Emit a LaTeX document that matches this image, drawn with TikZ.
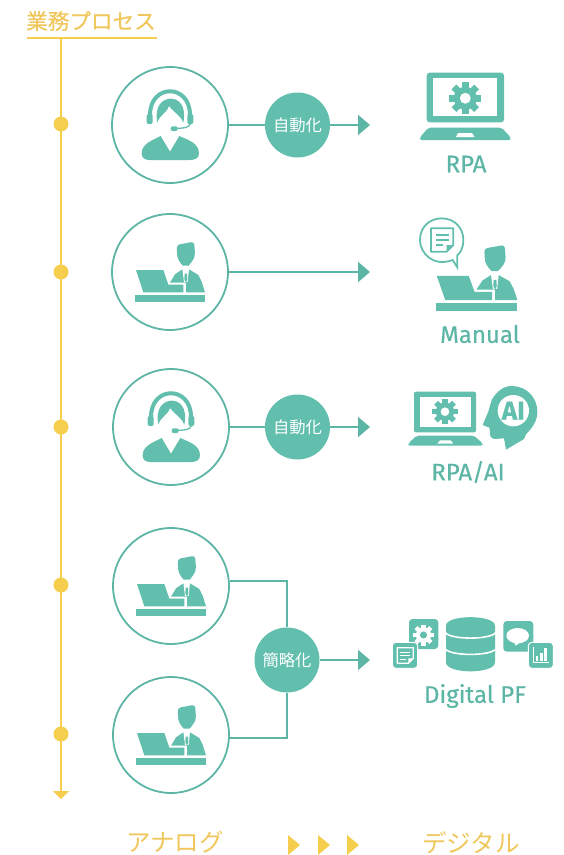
\documentclass[tikz,border=0pt]{standalone}
\usepackage{fontspec}
\usetikzlibrary{arrows.meta}
\setmainfont{Fira Sans}[FakeBold=0.35]
\newfontfamily\cjk{Noto Sans CJK JP}
\newfontfamily\cjkb{Noto Sans CJK JP}[FakeBold=0.5]
\definecolor{teal}{HTML}{62BFAE}
\definecolor{tealline}{HTML}{5DB5A6}
\definecolor{gold}{HTML}{F6CE4E}
\definecolor{goldtext}{HTML}{F0C75C}
\tikzset{
  x=1pt,y=-1pt,
  tl/.style={tealline,line width=1.8pt},
  flow/.style={tl,-{Triangle[length=12pt,width=20pt]}},
  person/.style={circle,draw=tealline,line width=1.8pt,fill=white,minimum size=116pt,inner sep=0pt},
  bubble/.style={circle,fill=teal,text=white,minimum size=65pt,inner sep=0pt,font=\cjk\fontsize{16.3}{16.3}\selectfont},
  dot/.style={circle,fill=gold,minimum size=15pt,inner sep=0pt},
  lab/.style={text=tealline,inner sep=0pt,font=\fontsize{24}{24}\selectfont},
  ytext/.style={text=goldtext,inner sep=0pt,font=\cjk\fontsize{24.5}{24.5}\selectfont},
  zoomed/.style={x=0.33333pt,y=-0.33333pt},
  pics/gear/.style args={#1/#2}{code={
    \fill[#1] (0,0) circle[radius=7.2];
    \foreach \a in {0,45,...,315}{
      \fill[#1,rotate=\a] (-2.1,-10) rectangle (2.1,-5);
    }
    \fill[#2] (0,0) circle[radius=3.4];
  }},
  pics/agent/.style={code={
    \begin{scope}[zoomed,shift={(-210,-195)}]
      \fill[teal] (125,280) .. controls (125,250) and (160,240) .. (182,228) -- (210,275) -- (238,228) .. controls (265,240) and (297,250) .. (297,280) .. controls (297,295) and (285,300) .. (270,300) -- (150,300) .. controls (135,300) and (125,295) .. (125,280) -- cycle;
      \fill[teal] (172,188) .. controls (162,135) and (190,116) .. (212,116) .. controls (235,116) and (260,135) .. (250,188) .. controls (245,170) and (225,160) .. (207,138) .. controls (200,160) and (178,165) .. (172,188) -- cycle;
      \draw[teal,line width=4pt] (150,165) .. controls (150,70) and (270,70) .. (270,165);
      \fill[teal,rounded corners=2pt] (140,162) rectangle (158,192);
      \fill[teal,rounded corners=2pt] (262,162) rectangle (280,192);
      \draw[teal,line width=1.3pt] (272,190) .. controls (268,205) and (245,205) .. (225,205);
      \fill[teal,rounded corners=2pt] (212,199) rectangle (233,213);
    \end{scope}
  }},
  pics/desk/.style={code={
    \begin{scope}[zoomed,shift={(-210,-186)}]
      \fill[teal] (108,180) -- (190,180) -- (205,224) -- (250,224) -- (250,247) -- (130,247) -- cycle;
      \fill[teal] (105,255) rectangle (315,277);
      \fill[teal,rounded corners=3pt] (230,105) -- (255,100) -- (282,95) -- (285,130) .. controls (282,150) and (265,167) .. (257,167) .. controls (248,167) and (233,150) .. (231,130) -- cycle;
      \fill[teal] (210,218) -- (225,193) -- (247,178) -- (267,178) -- (295,195) -- (305,215) -- (315,247) -- (258,247) -- (258,218) -- cycle;
      \fill[white] (247,176) -- (267,176) -- (263,216) -- (252,216) -- cycle;
      \fill[teal] (254,191) -- (261,191) -- (262,208) -- (258,218) -- (253,208) -- cycle;
    \end{scope}
  }}
}
\begin{document}
\begin{tikzpicture}
\useasboundingbox (0,0) rectangle (564,855);
% timeline
\node[ytext,font=\cjkb\fontsize{21.6}{21.6}\selectfont] (title) at (91,21) {業務プロセス};
\coordinate (ruleL) at (27,38);
\coordinate (ruleR) at (157,38);
\draw[gold,line width=2.4pt] (ruleL) -- (ruleR);
\coordinate (tlTop) at (61,38);
\coordinate (tlEnd) at (61,799);
\draw[gold,line width=2.2pt,-{Triangle[length=8pt,width=16pt]}] (tlTop) -- (tlEnd);
\node[dot] (d1) at (61,124) {};
\node[dot] (d2) at (61,272) {};
\node[dot] (d3) at (61,427) {};
\node[dot] (d4) at (61,585) {};
\node[dot] (d5) at (61,734) {};
% left circles
\node[person] (c1) at (170,125) {};
\node[person] (c2) at (170,272) {};
\node[person] (c3) at (171,427) {};
\node[person] (c4) at (171,586) {};
\node[person] (c5) at (171,735) {};
\pic at (170,125) {agent};
\pic at (170,272) {desk};
\pic at (171,427) {agent};
\pic at (171,586) {desk};
\pic at (171,735) {desk};
% bubbles & connectors
\node[bubble] (b1) at (297.5,125) {自動化};
\node[bubble] (b3) at (297.5,427) {自動化};
\node[bubble] (b4) at (287,660) {簡略化};
\coordinate (t1) at (370,125);
\coordinate (t2) at (370,272);
\coordinate (t3) at (370,427);
\coordinate (t4) at (370,660);
\coordinate (j4) at (287,581);
\coordinate (j5) at (287,738);
\draw[tl] (c1.east) -- (b1.west);
\draw[flow] (b1.east) -- (t1);
\draw[flow] (c2.east) -- (t2);
\draw[tl] (c3.east) -- (b3.west);
\draw[flow] (b3.east) -- (t3);
\draw[tl] (c4.east |- j4) -- (j4) -- (b4.north);
\draw[tl] (c5.east |- j5) -- (j5) -- (b4.south);
\draw[flow] (b4.east) -- (t4);
% RPA laptop
\begin{scope}[shift={(400,60)},zoomed]
  \fill[teal,rounded corners=3pt] (80,38) rectangle (312,187);
  \fill[white] (100,55) rectangle (292,168);
  \fill[teal,rounded corners=2pt] (85,203) -- (305,203) -- (332,232) -- (332,240) -- (60,240) -- (60,232) -- cycle;
  \fill[white] (174,219) -- (216,219) -- (224,231) -- (168,231) -- cycle;
\end{scope}
\pic[scale=1.6] at (465.3,98.3) {gear={teal/white}};
\node[lab] (l1) at (466,164) {RPA};
% Manual
\pic[xscale=1.17,yscale=1.09] at (476.5,278) {desk};
\begin{scope}[shift={(400,210)},zoomed]
  \draw[teal,line width=1.8pt,fill=white] (158,150) .. controls (100,172) and (60,130) .. (60,90) .. controls (60,50) and (90,25) .. (125,25) .. controls (160,25) and (190,50) .. (190,90) .. controls (190,115) and (180,130) .. (172,136) -- (172,172) -- cycle;
  \draw[teal,line width=1.8pt,line join=round] (93,55) -- (160,55) -- (160,105) -- (140,125) -- (93,125) -- cycle;
  \fill[teal] (140,125) -- (140,105) -- (160,105) -- cycle;
  \draw[teal,line width=1.5pt] (108,75) -- (147,75) (108,90) -- (147,90) (108,105) -- (130,105);
\end{scope}
\node[lab] (l2) at (480,334) {Manual};
% RPA/AI
\begin{scope}[shift={(400,375)},zoomed]
  \fill[teal,rounded corners=2pt] (42,50) rectangle (228,172);
  \fill[white] (60,65) rectangle (212,157);
  \fill[teal,rounded corners=2pt] (50,182) -- (222,182) -- (248,205) -- (248,212) -- (25,212) -- (25,205) -- cycle;
  \fill[white] (120,196) -- (152,196) -- (160,206) -- (112,206) -- cycle;
  \fill[teal] (275,75) .. controls (290,48) and (312,33) .. (335,33) .. controls (380,33) and (412,68) .. (412,110) .. controls (412,140) and (395,160) .. (378,178) -- (372,192) -- (318,224) -- (312,190) -- (285,192) .. controls (272,192) and (268,180) .. (270,170) -- (268,158) -- (248,150) -- (265,110) -- cycle;
  \fill[white] (340,107) circle[radius=47];
\end{scope}
\pic[scale=1.27] at (445,411.7) {gear={teal/white}};
\node[text=teal,inner sep=0pt,font=\bfseries\fontsize{26}{26}\selectfont] (ai) at (513.3,410.7) {AI};
\node[lab] (l3) at (468,472) {RPA/AI};
% Digital PF
\begin{scope}[shift={(385,605)},zoomed]
  \fill[teal,rounded corners=3.5pt] (72,42) rectangle (160,132);
  \fill[teal,rounded corners=3.5pt,draw=white,line width=1pt] (22,112) rectangle (98,190);
  \draw[white,line width=1.2pt,line join=round] (37,128) -- (85,128) -- (85,160) -- (70,175) -- (37,175) -- cycle;
  \fill[white] (70,175) -- (70,160) -- (85,160) -- cycle;
  \draw[white,line width=1pt] (46,141) -- (76,141) (46,152) -- (76,152) (46,163) -- (62,163);
  % chat
  \fill[teal,rounded corners=3.5pt] (355,48) rectangle (445,140);
  \fill[white] (398,92) ellipse[x radius=34,y radius=23];
  \fill[white] (385,105) -- (392,122) -- (412,108) -- cycle;
  \fill[teal,rounded corners=3.5pt,draw=white,line width=1pt] (430,112) rectangle (505,190);
  \draw[white,line width=1pt] (444,125) -- (444,172) -- (492,172);
  \fill[white] (452,153) rectangle (460,168);
  \fill[white] (465,145) rectangle (473,168);
  \fill[white] (478,130) rectangle (486,168);
  % database
  \fill[teal] (183,62) .. controls (183,28) and (330,28) .. (330,62) -- (330,172) .. controls (330,208) and (183,208) .. (183,172) -- cycle;
  \draw[white,line width=1.6pt] (180,82) .. controls (195,105) and (318,105) .. (333,82);
  \draw[white,line width=1.6pt] (180,131) .. controls (195,154) and (318,154) .. (333,131);
\end{scope}
\pic[scale=1.05] at (423.5,635) {gear={white/teal}};
\node[lab] (l4) at (475,696) {Digital PF};
% bottom
\node[ytext] (an) at (175,842.5) {アナログ};
\node[ytext] (dg) at (471,842.5) {デジタル};
\fill[gold] (288,835) -- (300,845) -- (288,855) -- cycle;
\fill[gold] (318,835) -- (330,845) -- (318,855) -- cycle;
\fill[gold] (347,835) -- (359,845) -- (347,855) -- cycle;
\end{tikzpicture}
\end{document}
